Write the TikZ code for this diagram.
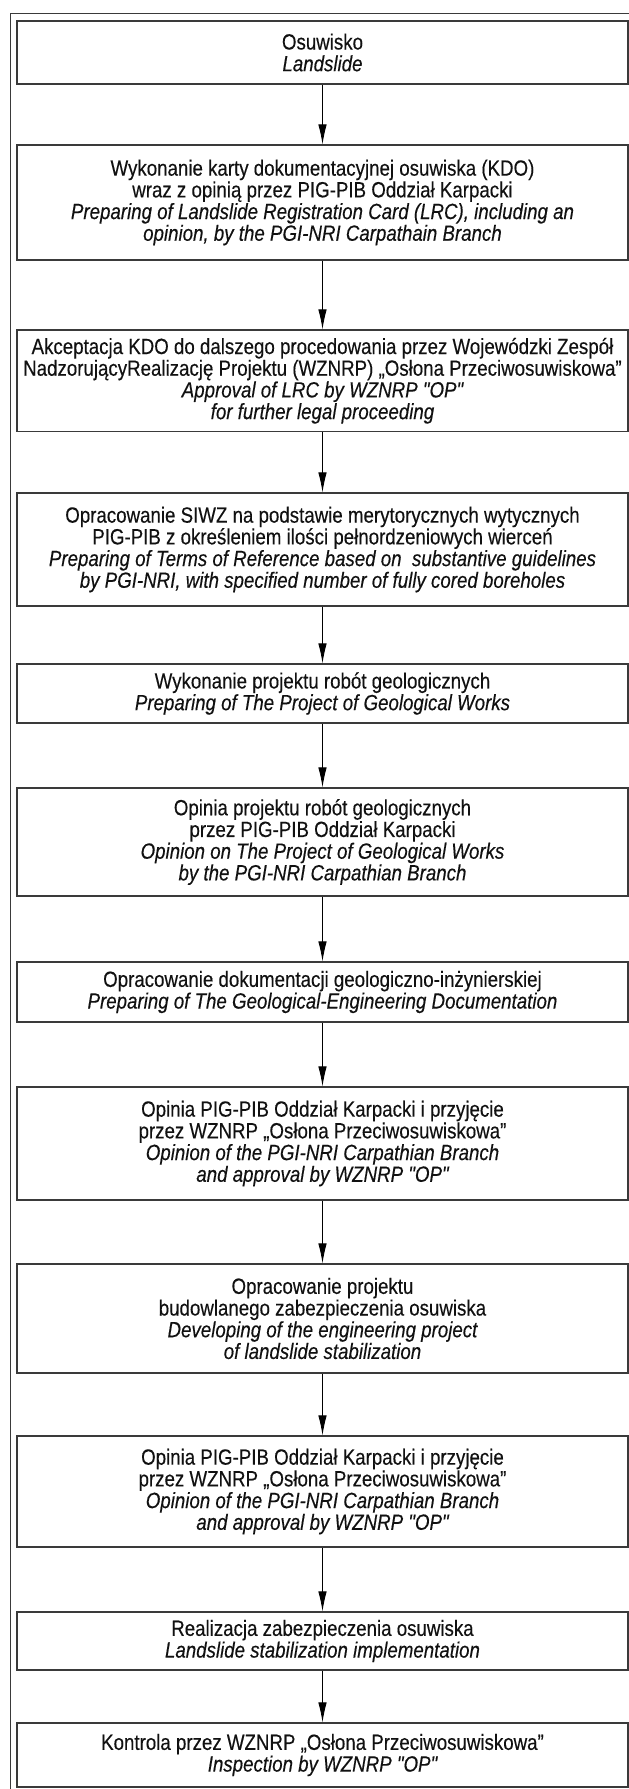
\documentclass[tikz,border=0pt]{standalone}
\usepackage{fontspec}
\newfontfamily\flowfont[FakeStretch=0.85,FakeBold=0.3]{Liberation Sans}
\usetikzlibrary{arrows.meta}
\definecolor{boxline}{HTML}{3A3A3A}
\definecolor{txt}{HTML}{111111}
\tikzset{
  stepbox/.style={draw=boxline, line width=1.2pt, minimum width=611pt, inner sep=0pt,
    align=center, text=txt, font=\flowfont\fontsize{22}{21.7}\selectfont},
  flow/.style={draw=black, line width=0.9pt, -{Latex[length=20pt,width=8.5pt]}},
  frame/.style={draw=boxline, line width=1pt}
}
\begin{document}
\begin{tikzpicture}[x=1pt,y=1pt]
\useasboundingbox (0,0) rectangle (629,-1789);
\coordinate (fa) at (10,-1789);
\coordinate (fb) at (10,-13);
\coordinate (fc) at (629,-13);
\draw[frame] (fa) -- (fb) -- (fc);

\node[stepbox, minimum height=63pt] (b1) at (322.5,-52.5)
  {Osuwisko\\ \itshape Landslide};
\node[stepbox, minimum height=115pt] (b2) at (322.5,-202.5)
  {Wykonanie karty dokumentacyjnej osuwiska (KDO)\\
   wraz z opinią przez PIG-PIB Oddział Karpacki\\
   \itshape Preparing of Landslide Registration Card (LRC), including an\\
   \itshape opinion, by the PGI-NRI Carpathain Branch};
\node[stepbox, minimum height=101.5pt] (b3) at (322.5,-380.75)
  {Akceptacja KDO do dalszego procedowania przez Wojewódzki Zespół\\
   NadzorującyRealizację Projektu (WZNRP) „Osłona Przeciwosuwiskowa”\\
   \itshape Approval of LRC by WZNRP "OP"\\
   \itshape for further legal proceeding};
\node[stepbox, minimum height=113pt] (b4) at (322.5,-549.5)
  {Opracowanie SIWZ na podstawie merytorycznych wytycznych\\
   PIG-PIB z określeniem ilości pełnordzeniowych wierceń\\
   \itshape Preparing of Terms of Reference based on~ substantive guidelines\\
   \itshape by PGI-NRI, with specified number of fully cored boreholes};
\node[stepbox, minimum height=59pt] (b5) at (322.5,-693.5)
  {Wykonanie projektu robót geologicznych\\
   \itshape Preparing of The Project of Geological Works};
\node[stepbox, minimum height=108pt] (b6) at (322.5,-842)
  {Opinia projektu robót geologicznych\\
   przez PIG-PIB Oddział Karpacki\\
   \itshape Opinion on The Project of Geological Works\\
   \itshape by the PGI-NRI Carpathian Branch};
\node[stepbox, minimum height=60pt] (b7) at (322.5,-992)
  {Opracowanie dokumentacji geologiczno-inżynierskiej\\
   \itshape Preparing of The Geological-Engineering Documentation};
\node[stepbox, minimum height=113pt] (b8) at (322.5,-1143.5)
  {Opinia PIG-PIB Oddział Karpacki i przyjęcie\\
   przez WZNRP „Osłona Przeciwosuwiskowa”\\
   \itshape Opinion of the PGI-NRI Carpathian Branch\\
   \itshape and approval by WZNRP "OP"};
\node[stepbox, minimum height=109pt] (b9) at (322.5,-1318.5)
  {Opracowanie projektu\\
   budowlanego zabezpieczenia osuwiska\\
   \itshape Developing of the engineering project\\
   \itshape of landslide stabilization};
\node[stepbox, minimum height=111pt] (b10) at (322.5,-1491.5)
  {Opinia PIG-PIB Oddział Karpacki i przyjęcie\\
   przez WZNRP „Osłona Przeciwosuwiskowa”\\
   \itshape Opinion of the PGI-NRI Carpathian Branch\\
   \itshape and approval by WZNRP "OP"};
\node[stepbox, minimum height=58pt] (b11) at (322.5,-1641)
  {Realizacja zabezpieczenia osuwiska\\
   \itshape Landslide stabilization implementation};
\node[stepbox, minimum height=64pt] (b12) at (322.5,-1755)
  {Kontrola przez WZNRP „Osłona Przeciwosuwiskowa”\\
   \itshape Inspection by WZNRP "OP"};

\foreach \a/\b in {b1/b2,b2/b3,b3/b4,b4/b5,b5/b6,b6/b7,b7/b8,b8/b9,b9/b10,b10/b11,b11/b12}
  \draw[flow] (\a.south) -- (\b.north);
\end{tikzpicture}
\end{document}
